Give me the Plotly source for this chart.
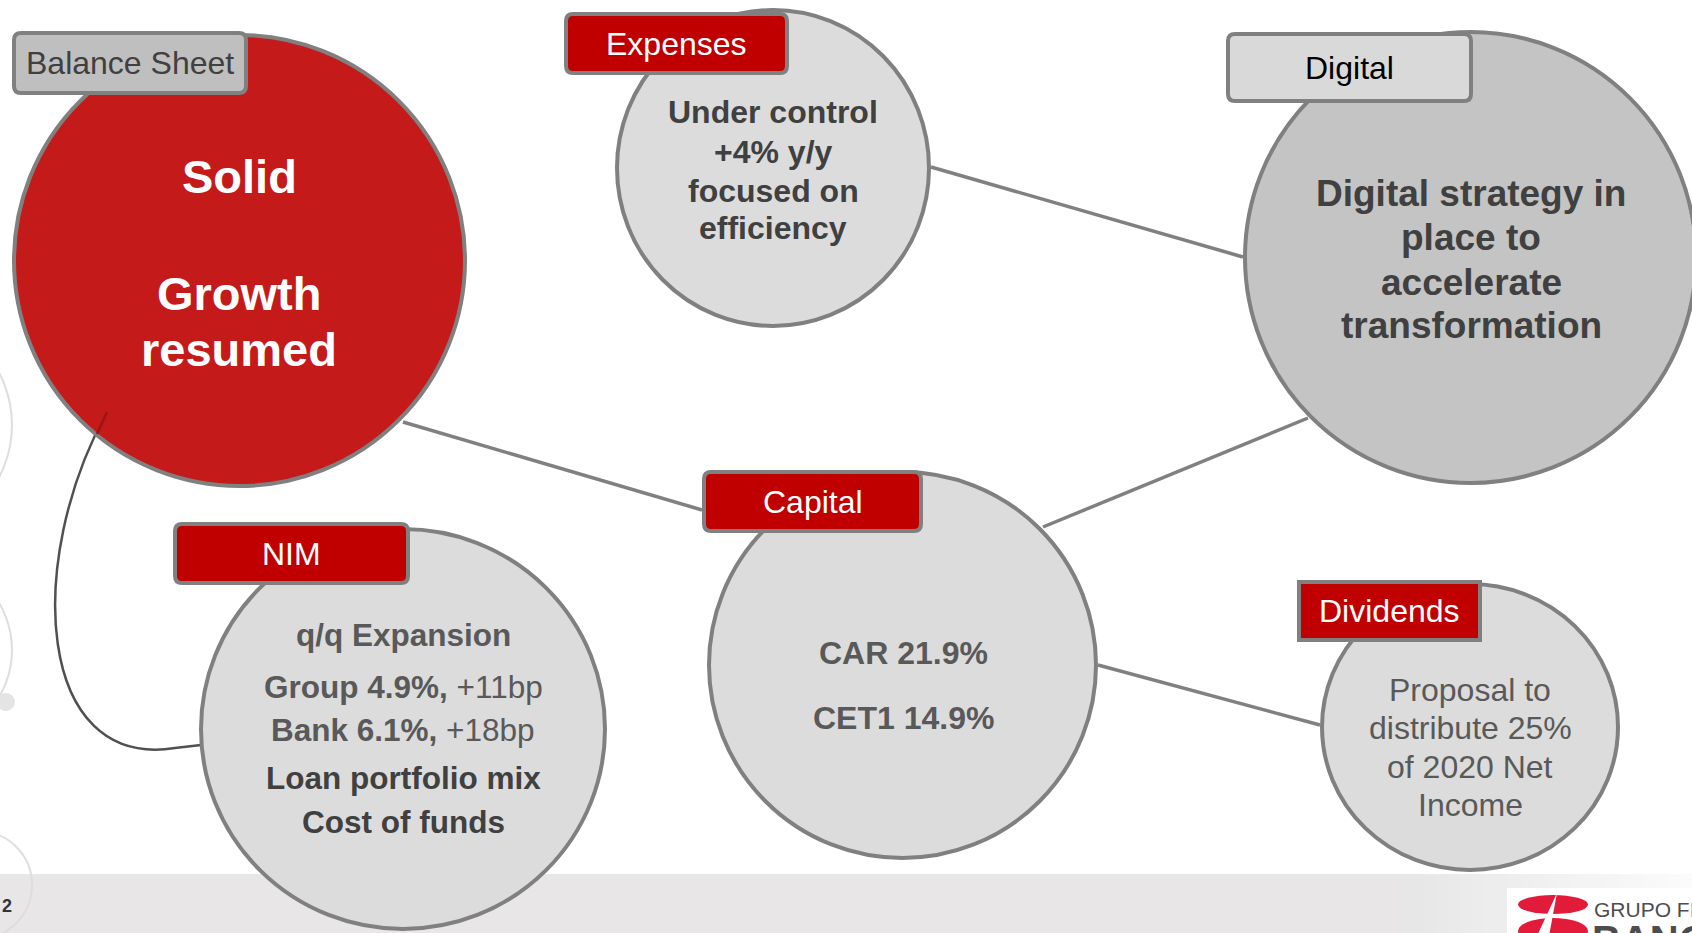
import plotly.graph_objects as go

# ---------------- content (text data) ----------------
labels = ["Balance Sheet", "Expenses", "Digital", "Capital", "NIM", "Dividends"]
balance_sheet_lines = ["<b>Solid</b>", "<b>Growth</b>", "<b>resumed</b>"]
expenses_lines = ["<b>Under control</b>", "<b>+4% y/y</b>", "<b>focused on</b>", "<b>efficiency</b>"]
digital_lines = ["<b>Digital strategy in</b>", "<b>place to</b>", "<b>accelerate</b>", "<b>transformation</b>"]
capital_lines = ["<b>CAR 21.9%</b>", "<b>CET1 14.9%</b>"]
nim_lines = ["<b>q/q Expansion</b>", "<b>Group 4.9%,</b> +11bp", "<b>Bank 6.1%,</b> +18bp",
             "<b>Loan portfolio mix</b>", "<b>Cost of funds</b>"]
dividends_lines = ["Proposal to", "distribute 25%", "of 2020 Net", "Income"]
page_number = "2"
logo_lines = ["GRUPO FINANCIERO", "<b>BANORTE</b>"]

# ---------------- layout / styling ----------------
W, H = 1692, 933
FONT = "Liberation Sans, Arial, sans-serif"
EDGE = "#808080"
RED_LABEL = "#C00000"

circles = {  # outer edge box: x0, y0, x1, y1 ; fill
    "Balance Sheet": ((12, 33, 467, 488), "#C41A1A"),
    "Expenses": ((615, 8, 931, 328), "#DCDCDC"),
    "Digital": ((1243, 30, 1698, 485), "#C4C4C4"),
    "Capital": ((707, 470, 1098, 860), "#DCDCDC"),
    "NIM": ((199, 527, 607, 931), "#DCDCDC"),
    "Dividends": ((1320, 582, 1620, 872), "#DCDCDC"),
}
label_boxes = {  # x0, y0, x1, y1, fill, text colour, corner radius
    "Balance Sheet": (12, 31, 248, 95, "#BFBFBF", "#404040", 7),
    "Expenses": (564, 12, 789, 75, RED_LABEL, "white", 7),
    "Digital": (1226, 32, 1473, 103, "#D9D9D9", "#000000", 7),
    "Capital": (702, 470, 923, 533, RED_LABEL, "white", 7),
    "NIM": (173, 522, 410, 585, RED_LABEL, "white", 7),
    "Dividends": (1297, 580, 1482, 642, RED_LABEL, "white", 0),
}
body_specs = [  # lines, x centre, y positions, size, colours
    (balance_sheet_lines, 239, [176, 293, 349], 47, ["white"] * 3),
    (expenses_lines, 773, [112, 152, 191, 228], 32, ["#404040"] * 4),
    (digital_lines, 1471, [193, 237, 282, 325], 37, ["#404040"] * 4),
    (capital_lines, 903, [653, 718], 32, ["#595959"] * 2),
    (nim_lines, 403, [635, 687, 730, 778, 822], 31.5,
     ["#595959", "#595959", "#595959", "#404040", "#404040"]),
    (dividends_lines, 1470, [690, 728, 767, 805], 32, ["#595959"] * 4),
]
connectors = [
    (931, 167, 1243, 257),
    (403, 422, 702, 510),
    (1043, 527, 1308, 418),
    (1098, 665, 1320, 725),
]


def rrect(x0, y0, x1, y1, r):
    if r <= 0:
        return f"M{x0},{y0} L{x1},{y0} L{x1},{y1} L{x0},{y1} Z"
    return (f"M{x0+r},{y0} L{x1-r},{y0} Q{x1},{y0} {x1},{y0+r} L{x1},{y1-r} "
            f"Q{x1},{y1} {x1-r},{y1} L{x0+r},{y1} Q{x0},{y1} {x0},{y1-r} "
            f"L{x0},{y0+r} Q{x0},{y0} {x0+r},{y0} Z")


shapes = []
annotations = []

# footer band with a fade to white on the right
shapes.append(dict(type="rect", x0=0, x1=1400, y0=874, y1=H, fillcolor="#E8E6E6",
                   line=dict(width=0), layer="above"))
n = 24
for i in range(n):
    t = i / (n - 1)
    c = int(232 + (252 - 232) * t)
    shapes.append(dict(type="rect", x0=1400 + i * (292 / n), x1=1400 + (i + 1) * (292 / n) + 1,
                       y0=874, y1=H, fillcolor=f"rgb({c},{c-1},{c-1})",
                       line=dict(width=0), layer="above"))

# faint decorative circles on the left edge
for (cx, cy, r) in [(-100, 425, 112), (-80, 650, 92), (-22, 885, 54)]:
    shapes.append(dict(type="circle", x0=cx - r, x1=cx + r, y0=cy - r, y1=cy + r,
                       line=dict(color="#DEDEDE", width=2), fillcolor="rgba(0,0,0,0)"))
shapes.append(dict(type="circle", x0=-3, x1=15, y0=693, y1=711, fillcolor="#E4E4E4",
                   line=dict(width=0)))

# curved connector Balance Sheet -> NIM
shapes.append(dict(type="path", path="M107,412 C25,560 35,770 175,748 L201,745",
                   line=dict(color="#505050", width=2.5)))

# straight connectors
for (x0, y0, x1, y1) in connectors:
    shapes.append(dict(type="line", x0=x0, y0=y0, x1=x1, y1=y1,
                       line=dict(color=EDGE, width=3.5)))

# circles
for name in labels:
    (x0, y0, x1, y1), fill = circles[name]
    shapes.append(dict(type="circle", x0=x0 + 2, y0=y0 + 2, x1=x1 - 2, y1=y1 - 2,
                       fillcolor=fill, line=dict(color=EDGE, width=4)))

# dark-red visible part of the curve inside the red circle
shapes.append(dict(type="line", x0=107, y0=412, x1=97, y1=434,
                   line=dict(color="#9E1414", width=2.5)))

# label boxes
for name in labels:
    x0, y0, x1, y1, fill, tc, r = label_boxes[name]
    shapes.append(dict(type="path", path=rrect(x0 + 2, y0 + 2, x1 - 2, y1 - 2, r),
                       fillcolor=fill, line=dict(color=EDGE, width=4)))
    annotations.append(dict(x=(x0 + x1) / 2, y=(y0 + y1) / 2, text=name, showarrow=False,
                            xanchor="center", yanchor="middle",
                            font=dict(family=FONT, size=32, color=tc)))

# body texts
for lines, cx, ys, size, cols in body_specs:
    for txt, y, col in zip(lines, ys, cols):
        annotations.append(dict(x=cx, y=y, text=txt, showarrow=False, xanchor="center",
                                yanchor="middle", font=dict(family=FONT, size=size, color=col)))

# page number
annotations.append(dict(x=0, y=906, text=f"<b>{page_number}</b>", showarrow=False,
                        xanchor="left", yanchor="middle",
                        font=dict(family=FONT, size=18, color="#333333")))

# logo
shapes.append(dict(type="rect", x0=1507, x1=W + 5, y0=888, y1=H + 5, fillcolor="white",
                   line=dict(width=0)))
shapes.append(dict(type="circle", x0=1518, x1=1588, y0=895, y1=914, fillcolor="#E31B3A",
                   line=dict(width=0)))
shapes.append(dict(type="circle", x0=1518, x1=1588, y0=918, y1=944, fillcolor="#E31B3A",
                   line=dict(width=0)))
shapes.append(dict(type="path", path="M1557,893 L1537,936 L1549,936 Z", fillcolor="white",
                   line=dict(width=0)))
annotations.append(dict(x=1592, y=909, text=logo_lines[0], showarrow=False, xanchor="left",
                        yanchor="middle", font=dict(family=FONT, size=21, color="#4D4D4D")))
annotations.append(dict(x=1590, y=916, text=logo_lines[1], showarrow=False, xanchor="left",
                        yanchor="top", font=dict(family=FONT, size=40, color="#4D4D4D")))

fig = go.Figure()
fig.update_layout(
    width=W, height=H, margin=dict(l=0, r=0, t=0, b=0),
    paper_bgcolor="white", plot_bgcolor="white", showlegend=False,
    xaxis=dict(range=[0, W], visible=False, fixedrange=True),
    yaxis=dict(range=[H, 0], visible=False, fixedrange=True),
    shapes=shapes, annotations=annotations,
)
fig.write_html("out.html", config={"displayModeBar": False},
               post_script="document.body.style.margin='0';document.body.style.overflow='hidden';")
